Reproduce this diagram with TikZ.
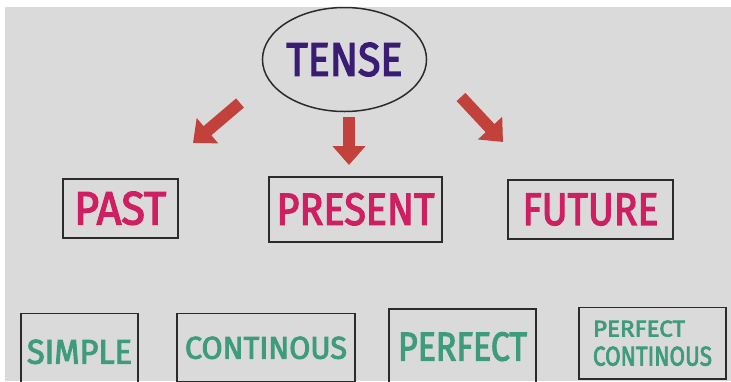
\documentclass[tikz,border=0pt]{standalone}
\usepackage{fontspec}
\setmainfont{Fira Sans}
\newfontfamily\letterfont{Fira Sans}[FakeBold=3]
\usetikzlibrary{arrows.meta,shapes.geometric}

\definecolor{paper}{HTML}{DADADA}
\definecolor{frame}{HTML}{2B2B2B}
\definecolor{tenseink}{HTML}{3B1C74}
\definecolor{timeink}{HTML}{CF1F63}
\definecolor{aspectink}{HTML}{3E9C7C}
\definecolor{arrowred}{HTML}{C2413A}

% scale a word to an exact width and cap height
\newcommand\capfit[3]{\resizebox{#1}{#2}{\letterfont #3}}

\begin{document}
\begin{tikzpicture}[x=1pt,y=-1pt,
  box/.style={draw=frame,line width=1.7pt,rectangle,inner sep=0pt},
  timebox/.style={box,text=timeink},
  aspectbox/.style={box,text=aspectink,anchor=north},
  bigarrow/.style={draw=arrowred,line width=12pt,
    -{Triangle[width=32pt,length=19pt]}}]

  % page and grey board
  \useasboundingbox (0,0) rectangle (731,381);
  \clip (0,0) rectangle (731,381);
  \fill[white] (0,0) rectangle (731,381);
  \fill[paper] (5,7) rectangle (731,381);

  % root
  \node[ellipse,draw=frame,line width=1.5pt,inner sep=0pt,
        minimum width=133pt,minimum height=104pt,text=tenseink]
        (tense) at (344.5,59.5) {\capfit{116pt}{33pt}{TENSE}};

  % the three times
  \node[timebox,minimum width=115pt,minimum height=58.7pt]
        (past) at (120.2,208.3) {\capfit{92pt}{32.6pt}{PAST}};
  \node[timebox,minimum width=173pt,minimum height=65pt]
        (present) at (355.5,209.2) {\capfit{158pt}{31.6pt}{PRESENT}};
  \node[timebox,minimum width=165pt,minimum height=59pt]
        (future) at (590.5,209.5) {\capfit{136pt}{31.3pt}{FUTURE}};

  % the four aspects
  \node[aspectbox,minimum width=117pt,minimum height=76.6pt]
        (simple) at (79.5,312.7) {\capfit{105pt}{24pt}{SIMPLE}};
  \node[aspectbox,minimum width=178pt,minimum height=68.6pt]
        (continous) at (266,312.7) {\capfit{162pt}{22pt}{CONTINOUS}};
  \node[aspectbox,minimum width=147pt,minimum height=75pt]
        (perfect) at (462.5,308.3) {\capfit{129pt}{28.3pt}{PERFECT}};
  \node[aspectbox,minimum width=147pt,minimum height=71.3pt,
        align=left,font=\fontsize{20}{29}\selectfont]
        (perfcont) at (652.5,306.7)
        {\capfit{92pt}{16pt}{PERFECT}\\\capfit{119pt}{19pt}{CONTINOUS}};

  % block arrows from the root towards the times
  \coordinate (la) at (240,103);
  \coordinate (lb) at (193,143);
  \coordinate (ma) at (349,117);
  \coordinate (mb) at (349,165);
  \coordinate (ra) at (461,97);
  \coordinate (rb) at (503,142);
  \draw[bigarrow] (la) -- (lb);
  \draw[bigarrow] (ma) -- (mb);
  \draw[bigarrow] (ra) -- (rb);
\end{tikzpicture}
\end{document}
